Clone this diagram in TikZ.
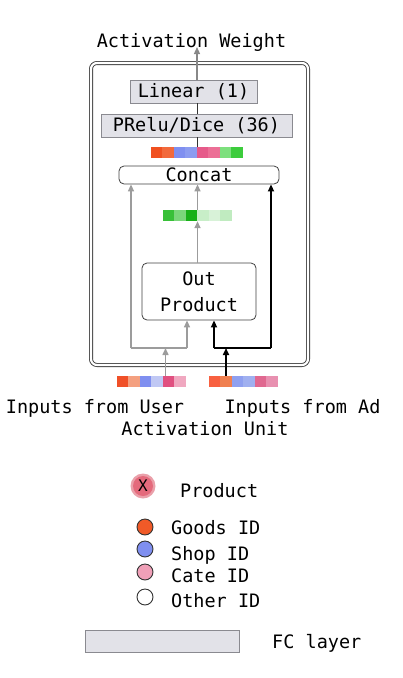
\documentclass[tikz,border=0pt]{standalone}
\usepackage{fontspec}
\setmonofont{DejaVu Sans Mono}
\usetikzlibrary{arrows.meta,calc}
\definecolor{fcfill}{HTML}{E2E2E8}
\definecolor{fcdraw}{HTML}{8A8A90}
\definecolor{garrow}{HTML}{9C9C9C}
\definecolor{tgray}{HTML}{888888}
\definecolor{c1}{HTML}{F05020}
\definecolor{c2}{HTML}{F26A3C}
\definecolor{c3}{HTML}{7F8FF0}
\definecolor{c4}{HTML}{8C9CF0}
\definecolor{c5}{HTML}{E65A8A}
\definecolor{c6}{HTML}{EC6F96}
\definecolor{c7}{HTML}{7DE07D}
\definecolor{c8}{HTML}{3CCC3C}
\definecolor{g1}{HTML}{38C038}
\definecolor{g2}{HTML}{7AD67A}
\definecolor{g3}{HTML}{18B018}
\definecolor{g4}{HTML}{C8EEC8}
\definecolor{g5}{HTML}{D8F2D8}
\definecolor{g6}{HTML}{C0EBC0}
\definecolor{u1}{HTML}{F05028}
\definecolor{u2}{HTML}{F4A080}
\definecolor{u3}{HTML}{7F8FF0}
\definecolor{u4}{HTML}{C0C8F4}
\definecolor{u5}{HTML}{E05080}
\definecolor{u6}{HTML}{F0A8C0}
\definecolor{a1}{HTML}{F86040}
\definecolor{a2}{HTML}{F08050}
\definecolor{a3}{HTML}{8FA0F0}
\definecolor{a4}{HTML}{A0B0F0}
\definecolor{a5}{HTML}{E06890}
\definecolor{a6}{HTML}{E890B0}
\definecolor{goods}{HTML}{F05A28}
\definecolor{shop}{HTML}{7F8FF0}
\definecolor{cate}{HTML}{F0A0B8}
\definecolor{prodout}{HTML}{EAA0AA}
\definecolor{prodin}{HTML}{E46A7C}
\begin{document}
\begin{tikzpicture}[x=1pt,y=-1pt,
  font=\ttfamily\fontsize{18.5}{26}\selectfont,
  txt/.style={inner sep=0pt, anchor=base},
  fcbox/.style={draw=fcdraw, fill=fcfill, line width=0.8pt, inner sep=0pt},
  rbox/.style={draw=black!75, line width=0.8pt, rounded corners=5pt, inner sep=0pt, fill=white},
  bar/.style={inner sep=0pt, minimum height=11pt},
  garr/.style={draw=garrow, line width=1.5pt, -{Triangle[length=7pt,width=6pt]}},
  gline/.style={draw=garrow, line width=1.5pt},
  barr/.style={draw=black, line width=1.6pt, -{Triangle[length=7pt,width=6pt]}},
  bline/.style={draw=black, line width=1.6pt},
  legc/.style={circle, draw=black!80, line width=0.9pt, minimum size=16pt, inner sep=0pt},
]
\useasboundingbox (0,0) rectangle (402,678);

% outer unit box
\node[draw=black!75, double=white, double distance=2.2pt, line width=0.9pt, rounded corners=6pt,
      minimum width=217pt, minimum height=302pt, inner sep=0pt] (unit) at (199.5,214) {};

% texts
\node[txt] (aw) at (191.5,47) {Activation Weight};
\node[txt] (iu) at (95,413) {Inputs from User};
\node[txt] (ia) at (302.5,413) {Inputs from Ad};
\node[txt] (au) at (205,435) {Activation Unit};

% layers
\node[fcbox, minimum width=127pt, minimum height=23pt] (lin) at (193.5,91.5) {Linear (1)};
\node[fcbox, minimum width=191pt, minimum height=23pt] (prelu) at (196.5,125.5) {PRelu/Dice (36)};
\node[bar, minimum width=92pt] (cb) at (197,152.5) {};
\foreach \c [count=\i from 0] in {c1,c2,c3,c4,c5,c6,c7,c8}
  \fill[\c] ($(cb.west)+(\i*11.5,-5.5)$) rectangle ++(11.6,11);
\node[rbox, minimum width=160pt, minimum height=18pt] (concat) at (199,175) {Concat};
\node[bar, minimum width=69pt] (gb) at (197.5,215.5) {};
\foreach \c [count=\i from 0] in {g1,g2,g3,g4,g5,g6}
  \fill[\c] ($(gb.west)+(\i*11.5,-5.5)$) rectangle ++(11.6,11);
\node[rbox, minimum width=114pt, minimum height=57pt, align=center] (op) at (199,291.5) {Out\\Product};
\node[bar, minimum width=69pt] (ub) at (151.5,381.5) {};
\foreach \c [count=\i from 0] in {u1,u2,u3,u4,u5,u6}
  \fill[\c] ($(ub.west)+(\i*11.5,-5.5)$) rectangle ++(11.6,11);
\node[bar, minimum width=69pt] (ab) at (243.5,381.5) {};
\foreach \c [count=\i from 0] in {a1,a2,a3,a4,a5,a6}
  \fill[\c] ($(ab.west)+(\i*11.5,-5.5)$) rectangle ++(11.6,11);

% top connections
\coordinate (awt) at (197,47);
\draw[draw=tgray, line width=1.3pt, -{Triangle[length=7pt,width=6pt]}] (lin.north -| cb.north) -- (awt);
\draw[black!80, line width=0.9pt] (lin.south -| cb.north) -- (prelu.north -| cb.north);
\draw[black!80, line width=0.9pt] (prelu.south -| cb.north) -- (cb.north);
\draw[garr] (gb.north) -- (gb.north |- concat.south);
\draw[garr] (gb.south |- op.north) -- (gb.south);

% gray routes (user)
\coordinate (gL) at (131,348);
\coordinate (gR) at (187,348);
\coordinate (gIn) at (165.5,348);
\draw[gline] (gL) -- (gR);
\draw[garr] (gL) -- (gL |- concat.south);
\draw[garr] (gR) -- (gR |- op.south);
\draw[garr] (gIn |- ub.north) -- (gIn);

% black routes (ad)
\coordinate (bL) at (214,348);
\coordinate (bR) at (271,348);
\coordinate (bIn) at (226,348);
\draw[bline] (bL) -- (bR);
\draw[barr] (bL) -- (bL |- op.south);
\draw[barr] (bR) -- (bR |- concat.south);
\draw[barr] (bIn |- ab.north) -- (bIn);

% legend
\node[circle, fill=prodout, minimum size=25pt, inner sep=0pt] (pxo) at (143,486) {};
\node[circle, fill=prodin, minimum size=20pt, inner sep=0pt, font=\ttfamily\fontsize{16}{18}\selectfont] (px) at (143,486) {X};
\node[txt, anchor=base west] (ptx) at (180,497) {Product};
\node[legc, fill=goods] (lg) at (145,527) {};
\node[txt, anchor=base west] (lgt) at (171,534) {Goods ID};
\node[legc, fill=shop] (ls) at (145,549) {};
\node[txt, anchor=base west] (lst) at (171,560) {Shop ID};
\node[legc, fill=cate] (lc) at (145,572) {};
\node[txt, anchor=base west] (lct) at (171,582) {Cate ID};
\node[legc, fill=white] (lo) at (145,597) {};
\node[txt, anchor=base west] (lot) at (171,607) {Other ID};
\node[fcbox, minimum width=154pt, minimum height=22pt] (fcr) at (162,641) {};
\node[txt, anchor=base west] (fct) at (272,648) {FC layer};
\end{tikzpicture}
\end{document}
